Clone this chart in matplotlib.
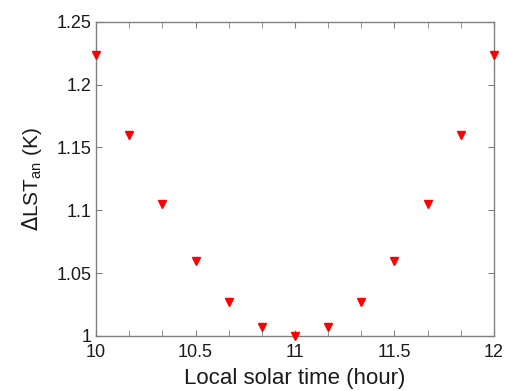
import matplotlib
matplotlib.use("Agg")
import matplotlib.pyplot as plt
import numpy as np

hours = [10, 10 + 1/6, 10 + 2/6, 10.5, 10 + 4/6, 10 + 5/6, 11,
         11 + 1/6, 11 + 2/6, 11.5, 11 + 4/6, 11 + 5/6, 12]
dlst = [1.224, 1.160, 1.105, 1.060, 1.027, 1.007, 1.000,
        1.007, 1.027, 1.060, 1.105, 1.160, 1.224]
xticks = [10, 10.5, 11, 11.5, 12]
xticklabels = ["10", "10.5", "11", "11.5", "12"]
yticks = [1, 1.05, 1.1, 1.15, 1.2, 1.25]
yticklabels = ["1", "1.05", "1.1", "1.15", "1.2", "1.25"]

plt.rcParams['font.family'] = ['Liberation Sans', 'DejaVu Sans']
fig = plt.figure(figsize=(5.06, 3.91), dpi=100)
ax = fig.add_axes([0.190, 0.141, 0.786, 0.803])
ax.plot(hours, dlst, linestyle='none', marker='v', color='#ff0000',
        markersize=6, clip_on=False, zorder=5)
ax.set_xlim(10, 12)
ax.set_ylim(1, 1.25)
ax.set_xticks(xticks)
ax.set_xticklabels(xticklabels)
ax.set_xticks(np.arange(10, 12.01, 1/6), minor=True)
ax.set_yticks(yticks)
ax.set_yticklabels(yticklabels)
for s in ax.spines.values():
    s.set_color('#808080')
    s.set_linewidth(1.0)
ax.tick_params(which='both', direction='in', top=True, right=True,
               color='#808080', labelsize=13, labelcolor='#1a1a1a', length=4)
ax.tick_params(axis='x', which='major', pad=6)
ax.set_xlabel('Local solar time (hour)', fontsize=16, color='#1a1a1a', labelpad=5)
ax.set_ylabel(r'$\Delta$LST$_{\mathregular{an}}$ (K)', fontsize=15, color='#1a1a1a', labelpad=9)
fig.savefig('out.png', dpi=100)
